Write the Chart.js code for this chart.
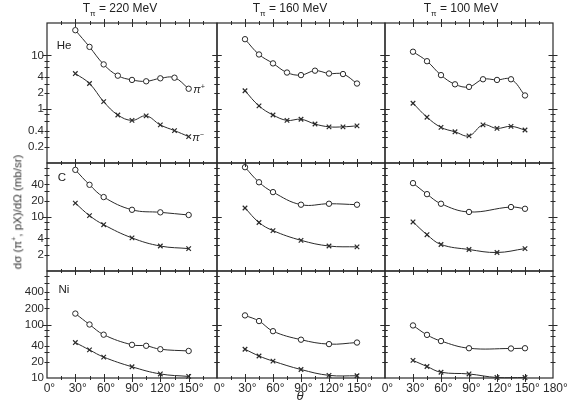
<!DOCTYPE html>
<html><head><meta charset="utf-8">
<script src="https://cdn.jsdelivr.net/npm/chart.js@4.4.0/dist/chart.umd.min.js"></script>
<style>
html,body{margin:0;padding:0;background:#fff;}
#wrap{position:relative;width:570px;height:404px;overflow:hidden;font-family:"Liberation Sans",Arial,sans-serif;color:#222;}
#wrap canvas{position:absolute;left:0;top:0;}
.t{position:absolute;white-space:nowrap;transform:translate(-50%,-50%);line-height:1;z-index:5;}
</style></head><body>
<div id="wrap">
  <div class="t" style="left:120px;top:10px;font-size:12px">T<sub style="font-size:8px">π</sub> = 220 MeV</div>
  <div class="t" style="left:290px;top:10px;font-size:12px">T<sub style="font-size:8px">π</sub> = 160 MeV</div>
  <div class="t" style="left:461px;top:10px;font-size:12px">T<sub style="font-size:8px">π</sub> = 100 MeV</div>
  <div class="t" style="left:64px;top:46px;font-size:11.5px">He</div>
  <div class="t" style="left:62px;top:178px;font-size:11.5px">C</div>
  <div class="t" style="left:64px;top:290px;font-size:11.5px">Ni</div>
  <div class="t" style="left:199px;top:89px;font-size:11px;font-style:italic">π<sup style="font-size:7px">+</sup></div>
  <div class="t" style="left:198px;top:137px;font-size:11px;font-style:italic">π<sup style="font-size:7px">−</sup></div>
  <div class="t" style="left:17px;top:212px;font-size:11.5px;color:#333;transform:translate(-50%,-50%) rotate(-90deg)">dσ (π<sup style="font-size:7px">+</sup>, pX)/dΩ (mb/sr)</div>
  <div class="t" style="left:300px;top:395px;font-size:13px;font-style:italic">θ</div>
</div>
<script>
// ---------- data ----------
const energies = ['220 MeV', '160 MeV', '100 MeV'];
const nuclei = ['He', 'C', 'Ni'];

const heAngles = [30, 45, 60, 75, 90, 105, 120, 135, 150];
const he220Plus  = [29.4, 14.4, 6.8, 4.2, 3.5, 3.3, 3.75, 3.85, 2.4];
const he220Minus = [4.6, 3.0, 1.38, 0.78, 0.62, 0.75, 0.51, 0.40, 0.31];
const he160Plus  = [20, 10.4, 7.1, 4.8, 4.3, 5.2, 4.6, 4.5, 3.0];
const he160Minus = [2.2, 1.15, 0.78, 0.62, 0.65, 0.53, 0.47, 0.47, 0.49];
const he100Plus  = [11.7, 7.8, 4.3, 2.9, 2.6, 3.6, 3.5, 3.6, 1.8];
const he100Minus = [1.29, 0.71, 0.46, 0.38, 0.32, 0.51, 0.44, 0.48, 0.41];

const cAngles = [30, 45, 60, 90, 120, 150];
const cAngles100Plus = [30, 45, 60, 90, 135, 150];
const c220Plus  = [74.6, 39.5, 23.4, 13.6, 12.2, 10.9];
const c220Minus = [18.1, 10.6, 7.2, 4.1, 2.9, 2.6];
const c160Plus  = [83.6, 44, 28.9, 16.9, 17.6, 16.9];
const c160Minus = [14.7, 7.9, 5.6, 3.7, 2.9, 2.8];
const c100Plus  = [42.4, 26.5, 17.6, 12.4, 15.3, 14.2];
const c100Minus = [8.1, 4.7, 3.1, 2.5, 2.2, 2.6];

const niAngles = [30, 45, 60, 90, 120, 150];
const niAngles220Plus = [30, 45, 60, 90, 105, 120, 150];
const niAngles100Plus = [30, 45, 60, 90, 135, 150];
const ni220Plus  = [160, 100, 64.5, 41.7, 40, 34.5, 32];
const ni220Minus = [46, 33.5, 24.6, 16.2, 11.9, 10.7];
const ni160Plus  = [148, 116, 75, 52, 43, 46];
const ni160Minus = [34.5, 25.8, 20.7, 14.4, 11.2, 11];
const ni100Plus  = [96, 64, 49, 36, 35.6, 36];
const ni100Minus = [21.3, 16.4, 12.8, 11.9, 10.2, 10.2];

// axis ranges and ticks
const yMins = [0.1, 1, 10];
const yMaxs = [40, 100, 1000];
const yMajorTicks = [[1, 10], [10], [100]];
const yMinorTicks = [
  [0.2, 0.3, 0.4, 0.6, 0.8, 2, 3, 4, 6, 8],
  [2, 3, 4, 6, 8, 20, 30, 40, 60, 80],
  [20, 30, 40, 60, 80, 200, 300, 400, 600, 800]
];
const yTickLabels = [
  [10, 4, 2, 1, 0.4, 0.2],
  [40, 20, 10, 4, 2],
  [400, 200, 100, 40, 20, 10]
];
const xMajorTicks = [30, 60, 90, 120, 150];
const xMinorTicks = [15, 45, 75, 105, 135, 165];
const xTickLabels = [0, 30, 60, 90, 120, 150];
const xTickLabelsLast = [0, 30, 60, 90, 120, 150, 180];

// panel series: [row][col] -> {plus:[x,y], minus:[x,y]}
const panels = [
  [
    {plus: [heAngles, he220Plus], minus: [heAngles, he220Minus]},
    {plus: [heAngles, he160Plus], minus: [heAngles, he160Minus]},
    {plus: [heAngles, he100Plus], minus: [heAngles, he100Minus]}
  ],
  [
    {plus: [cAngles, c220Plus], minus: [cAngles, c220Minus]},
    {plus: [cAngles, c160Plus], minus: [cAngles, c160Minus]},
    {plus: [cAngles100Plus, c100Plus], minus: [cAngles, c100Minus]}
  ],
  [
    {plus: [niAngles220Plus, ni220Plus], minus: [niAngles, ni220Minus]},
    {plus: [niAngles, ni160Plus], minus: [niAngles, ni160Minus]},
    {plus: [niAngles100Plus, ni100Plus], minus: [niAngles, ni100Minus]}
  ]
];

// ---------- layout ----------
const colL = [47, 217, 385], colR = [217, 385, 553];
const rowT = [23, 163, 271], rowB = [163, 271, 378];
const INK = '#2a2a2a';

const framePlugin = {
  id: 'frame',
  afterDraw(chart, args, opts) {
    const {ctx, chartArea: a, scales: {x, y}} = chart;
    const r = opts.row, c = opts.col;
    ctx.save();
    ctx.strokeStyle = INK;
    ctx.lineWidth = 1.2;
    ctx.strokeRect(a.left, a.top, a.right - a.left, a.bottom - a.top);
    ctx.lineWidth = 1;
    ctx.beginPath();
    const vt = (px, len) => {
      ctx.moveTo(px, a.top - len); ctx.lineTo(px, a.top + len);
      ctx.moveTo(px, a.bottom - len); ctx.lineTo(px, a.bottom + len);
    };
    const ht = (py, len) => {
      ctx.moveTo(a.left - len, py); ctx.lineTo(a.left + len, py);
      ctx.moveTo(a.right - len, py); ctx.lineTo(a.right + len, py);
    };
    xMajorTicks.forEach(v => vt(Math.round(x.getPixelForValue(v)) + 0.5, 4));
    xMinorTicks.forEach(v => vt(Math.round(x.getPixelForValue(v)) + 0.5, 2));
    yMajorTicks[r].forEach(v => ht(Math.round(y.getPixelForValue(v)) + 0.5, 4.5));
    yMinorTicks[r].forEach(v => ht(Math.round(y.getPixelForValue(v)) + 0.5, 2.5));
    ctx.stroke();

    ctx.fillStyle = INK;
    ctx.font = '11.5px "Liberation Sans", Arial, sans-serif';
    if (c === 0) {
      ctx.textAlign = 'right';
      ctx.textBaseline = 'middle';
      yTickLabels[r].forEach(v => ctx.fillText(String(v), a.left - 3, y.getPixelForValue(v)));
    }
    if (r === 2) {
      ctx.font = '12px "Liberation Sans", Arial, sans-serif';
      ctx.textAlign = 'left';
      ctx.textBaseline = 'top';
      const labels = c === 2 ? xTickLabelsLast : xTickLabels;
      labels.forEach(v => {
        const s = String(v);
        const w = ctx.measureText(s).width;
        const px = x.getPixelForValue(v);
        ctx.fillText(s + '°', px - w / 2, a.bottom + 5);
      });
    }
    ctx.restore();
  }
};

function series(pair, isPlus) {
  const [xs, ys] = pair;
  return {
    data: xs.map((v, i) => ({x: v, y: ys[i]})),
    borderColor: INK,
    borderWidth: 1,
    tension: 0.4,
    pointStyle: isPlus ? 'circle' : 'crossRot',
    pointRadius: isPlus ? 2.7 : 3.2,
    pointBorderWidth: isPlus ? 1 : 1.2,
    pointBackgroundColor: '#fff',
    pointBorderColor: INK,
    clip: false
  };
}

const wrap = document.getElementById('wrap');
for (let r = 0; r < 3; r++) {
  for (let c = 0; c < 3; c++) {
    const cv = document.createElement('canvas');
    cv.width = 570; cv.height = 404;
    cv.style.width = '570px'; cv.style.height = '404px';
    wrap.appendChild(cv);
    const p = panels[r][c];
    new Chart(cv, {
      type: 'line',
      data: {datasets: [series(p.plus, true), series(p.minus, false)]},
      options: {
        responsive: false,
        animation: false,
        devicePixelRatio: 1,
        events: [],
        layout: {padding: {left: colL[c], right: 570 - colR[c], top: rowT[r], bottom: 404 - rowB[r]}},
        plugins: {legend: {display: false}, tooltip: {enabled: false}, title: {display: false}, frame: {row: r, col: c}},
        scales: {
          x: {type: 'linear', min: 0, max: 180, display: false},
          y: {type: 'logarithmic', min: yMins[r], max: yMaxs[r], display: false}
        }
      },
      plugins: [framePlugin]
    });
  }
}
</script>
</body></html>
